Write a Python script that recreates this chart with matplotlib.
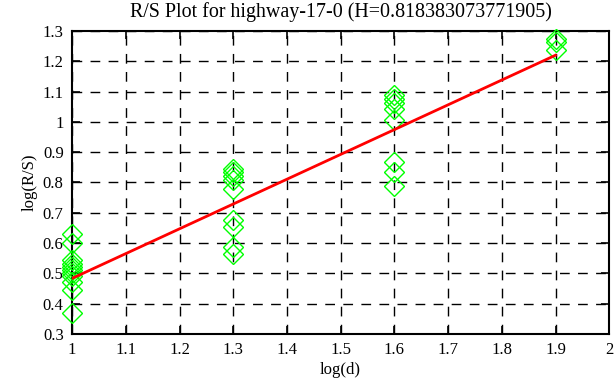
import matplotlib
matplotlib.use('Agg')
import matplotlib.pyplot as plt
import numpy as np

# R/S samples
log_d = [1.0] * 11 + [1.3] * 9 + [1.6] * 8 + [1.9] * 3
log_rs = [0.63, 0.60, 0.545, 0.53, 0.52, 0.51, 0.50, 0.49, 0.47, 0.445, 0.37,
          0.845, 0.833, 0.822, 0.807, 0.777, 0.675, 0.652, 0.588, 0.565,
          1.088, 1.075, 1.061, 1.043, 1.006, 0.866, 0.833, 0.789,
          1.272, 1.262, 1.236]

hurst = 0.818383073771905
intercept = -0.335
fit_x = [1.0, 1.9]

x_ticks = [1, 1.1, 1.2, 1.3, 1.4, 1.5, 1.6, 1.7, 1.8, 1.9, 2]
x_labels = ['1', '1.1', '1.2', '1.3', '1.4', '1.5', '1.6', '1.7', '1.8', '1.9', '2']
y_ticks = [0.3, 0.4, 0.5, 0.6, 0.7, 0.8, 0.9, 1.0, 1.1, 1.2, 1.3]
y_labels = ['0.3', '0.4', '0.5', '0.6', '0.7', '0.8', '0.9', '1', '1.1', '1.2', '1.3']

plt.rcParams['font.family'] = ['Liberation Serif', 'DejaVu Serif']
plt.rcParams['font.size'] = 12

fig = plt.figure(figsize=(6.16, 3.87), dpi=100)
ax = fig.add_axes([0.117, 0.137, 0.872, 0.783])

ax.plot(log_d, log_rs, linestyle='none', marker='D', markersize=10,
        markerfacecolor='none', markeredgecolor='#00ff00', markeredgewidth=1.0,
        zorder=3, clip_on=False)

fit_y = [hurst * v + intercept for v in fit_x]
ax.plot(fit_x, fit_y, color='#ff0000', linewidth=2, zorder=4)

ax.set_xlim(1, 2)
ax.set_ylim(0.3, 1.3)
ax.set_xticks(x_ticks)
ax.set_xticklabels(x_labels)
ax.set_yticks(y_ticks)
ax.set_yticklabels(y_labels)
ax.tick_params(direction='in', length=6, width=1.2, top=True, right=True, pad=6)
ax.grid(True, color='black', linestyle=(0, (7, 6)), linewidth=1.0)
for s in ax.spines.values():
    s.set_linewidth(1.5)

ax.set_xlabel('log(d)', labelpad=3)
ax.set_ylabel('log(R/S)', labelpad=4)
ax.set_title('R/S Plot for highway-17-0 (H=0.818383073771905)', pad=10)

fig.savefig('out.png', dpi=100)
